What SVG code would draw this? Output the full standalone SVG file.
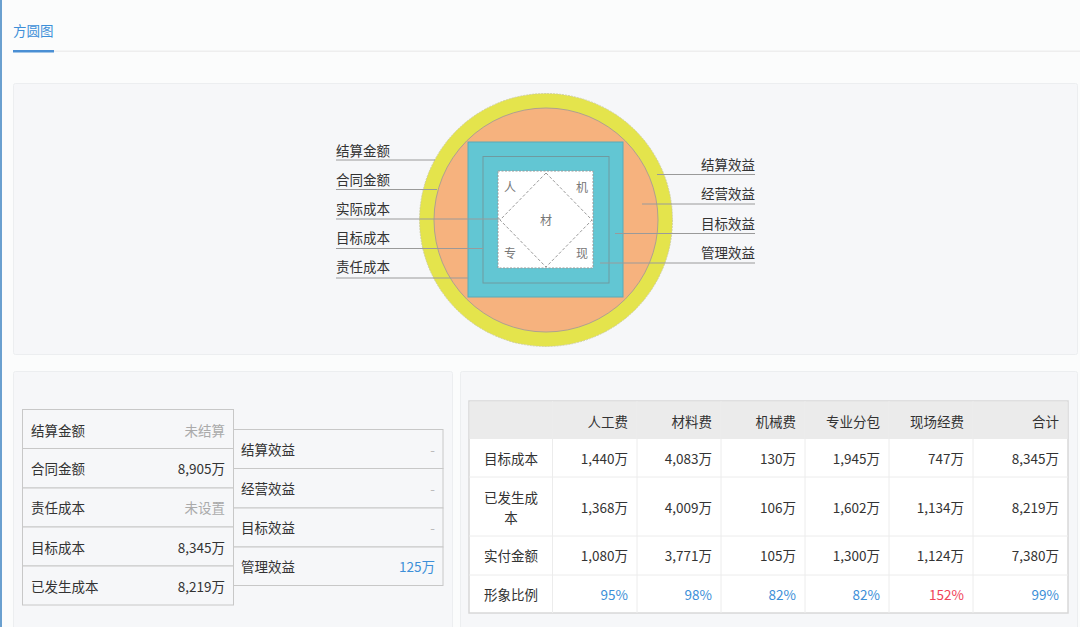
<svg xmlns="http://www.w3.org/2000/svg" width="1080" height="627" viewBox="0 0 1080 627">
<style>
text{font-family:"Noto Sans CJK SC","Noto Sans",sans-serif;font-size:13.5px;fill:#333;dominant-baseline:central;transform:translateY(-1px)}
.r{text-anchor:end}
.m{text-anchor:middle}
.g{fill:#aaa}
.d{fill:#bbb}
.b{fill:#3d8fd8}
.red{fill:#f0445a}
.small{font-size:12px;fill:#777}
.lead{stroke:#9a9a9a;stroke-width:1;fill:none}
.panel{fill:#f6f7f9;stroke:#eceef0;stroke-width:1}
.cell{fill:#f6f7f9;stroke:#c8c8c8;stroke-width:1}
</style>
<rect x="0" y="0" width="1080" height="627" fill="#fbfcfc"/>
<rect x="0" y="0" width="2" height="627" fill="#6aa0cf"/>
<g id="tab">
<rect x="54" y="50.5" width="1026" height="1.5" fill="#eeeeee"/>
<rect x="13" y="50" width="41" height="2.5" fill="#4a8fd4"/>
<text x="13" y="31" style="fill:#3d8fd8">方圆图</text>
</g>
<rect class="panel" x="13.5" y="83.5" width="1064" height="271" rx="2"/>
<rect class="panel" x="13.5" y="371.5" width="439" height="270" rx="2"/>
<rect class="panel" x="460.5" y="371.5" width="617" height="270" rx="2"/>

<g id="diagram">
<circle cx="546" cy="220" r="126.5" fill="#e4e44c" stroke="#c8c8a0" stroke-width="0.8" stroke-dasharray="2 1"/>
<circle cx="546" cy="220" r="112" fill="#f6b27e" stroke="#b0a090" stroke-width="1"/>
<rect x="468" y="142" width="155" height="155" fill="#62c6d3" stroke="#58aab8" stroke-width="1"/>
<rect x="483" y="156.5" width="126" height="126.5" fill="none" stroke="#6f9aa0" stroke-width="1"/>
<rect x="498" y="171" width="95" height="97" fill="#fff" stroke="#999" stroke-width="1" stroke-dasharray="2 1.5"/>
<polygon points="546,173 592,220 546,267 500,220" fill="none" stroke="#999" stroke-width="1" stroke-dasharray="3 2"/>
<text class="small m" x="510" y="187">人</text>
<text class="small m" x="582" y="187">机</text>
<text class="small m" x="546" y="220">材</text>
<text class="small m" x="510" y="253">专</text>
<text class="small m" x="582" y="253">现</text>
</g>

<g id="connectors">
<line class="lead" x1="336" y1="160" x2="435" y2="160"/>
<line class="lead" x1="336" y1="189.5" x2="437" y2="189.5"/>
<line class="lead" x1="336" y1="219" x2="500" y2="219"/>
<line class="lead" x1="336" y1="248.5" x2="483" y2="248.5"/>
<line class="lead" x1="336" y1="278" x2="468" y2="278"/>
<line class="lead" x1="657" y1="174.5" x2="755" y2="174.5"/>
<line class="lead" x1="642" y1="204" x2="755" y2="204"/>
<line class="lead" x1="615" y1="233.5" x2="755" y2="233.5"/>
<line class="lead" x1="600" y1="263" x2="755" y2="263"/>
</g>

<g id="labels-left">
<text x="336" y="151">结算金额</text>
<text x="336" y="180">合同金额</text>
<text x="336" y="209">实际成本</text>
<text x="336" y="238">目标成本</text>
<text x="336" y="267">责任成本</text>
</g>
<g id="labels-right">
<text class="r" x="755" y="165">结算效益</text>
<text class="r" x="755" y="194">经营效益</text>
<text class="r" x="755" y="224">目标效益</text>
<text class="r" x="755" y="253">管理效益</text>
</g>

<g id="left-table">
<rect class="cell" x="233.5" y="429.5" width="209.5" height="39"/>
<rect class="cell" x="233.5" y="468.5" width="209.5" height="39.5"/>
<rect class="cell" x="233.5" y="508" width="209.5" height="39"/>
<rect class="cell" x="233.5" y="547" width="209.5" height="38.5"/>
<rect class="cell" x="22.5" y="409.5" width="211" height="39"/>
<rect class="cell" x="22.5" y="448.5" width="211" height="39.5"/>
<rect class="cell" x="22.5" y="488" width="211" height="39"/>
<rect class="cell" x="22.5" y="527" width="211" height="39"/>
<rect class="cell" x="22.5" y="566" width="211" height="39"/>
<text x="31" y="431">结算金额</text><text class="r g" x="225" y="431">未结算</text>
<text x="31" y="469">合同金额</text><text class="r" x="225" y="469">8,905万</text>
<text x="31" y="508">责任成本</text><text class="r g" x="225" y="508">未设置</text>
<text x="31" y="548">目标成本</text><text class="r" x="225" y="548">8,345万</text>
<text x="31" y="587">已发生成本</text><text class="r" x="225" y="587">8,219万</text>
<text x="241" y="450">结算效益</text><text class="r d" x="435" y="450">-</text>
<text x="241" y="489">经营效益</text><text class="r d" x="435" y="489">-</text>
<text x="241" y="528">目标效益</text><text class="r d" x="435" y="528">-</text>
<text x="241" y="567">管理效益</text><text class="r b" x="435" y="567">125万</text>
</g>

<g id="right-table">
<rect x="469" y="401" width="599" height="212" fill="#fff" stroke="#d8d8d8" stroke-width="1.5"/>
<rect x="469.5" y="401.5" width="598" height="37.5" fill="#ebebeb"/>
<g stroke="#ececec" stroke-width="1">
<line x1="469" y1="477" x2="1068" y2="477"/>
<line x1="469" y1="536" x2="1068" y2="536"/>
<line x1="469" y1="575" x2="1068" y2="575"/>
<line x1="552.5" y1="401" x2="552.5" y2="613"/>
<line x1="637" y1="401" x2="637" y2="613"/>
<line x1="721" y1="401" x2="721" y2="613"/>
<line x1="805" y1="401" x2="805" y2="613"/>
<line x1="889" y1="401" x2="889" y2="613"/>
<line x1="973" y1="401" x2="973" y2="613"/>
</g>
<text class="r" x="628" y="422">人工费</text>
<text class="r" x="712" y="422">材料费</text>
<text class="r" x="796" y="422">机械费</text>
<text class="r" x="880" y="422">专业分包</text>
<text class="r" x="964" y="422">现场经费</text>
<text class="r" x="1059" y="422">合计</text>

<text class="m" x="511" y="459">目标成本</text>
<text class="r" x="628" y="459">1,440万</text>
<text class="r" x="712" y="459">4,083万</text>
<text class="r" x="796" y="459">130万</text>
<text class="r" x="880" y="459">1,945万</text>
<text class="r" x="964" y="459">747万</text>
<text class="r" x="1059" y="459">8,345万</text>

<text class="m" x="511" y="498">已发生成</text>
<text class="m" x="511" y="518">本</text>
<text class="r" x="628" y="508">1,368万</text>
<text class="r" x="712" y="508">4,009万</text>
<text class="r" x="796" y="508">106万</text>
<text class="r" x="880" y="508">1,602万</text>
<text class="r" x="964" y="508">1,134万</text>
<text class="r" x="1059" y="508">8,219万</text>

<text class="m" x="511" y="556">实付金额</text>
<text class="r" x="628" y="556">1,080万</text>
<text class="r" x="712" y="556">3,771万</text>
<text class="r" x="796" y="556">105万</text>
<text class="r" x="880" y="556">1,300万</text>
<text class="r" x="964" y="556">1,124万</text>
<text class="r" x="1059" y="556">7,380万</text>

<text class="m" x="511" y="595">形象比例</text>
<text class="r b" x="628" y="595">95%</text>
<text class="r b" x="712" y="595">98%</text>
<text class="r b" x="796" y="595">82%</text>
<text class="r b" x="880" y="595">82%</text>
<text class="r red" x="964" y="595">152%</text>
<text class="r b" x="1059" y="595">99%</text>
</g>
</svg>
